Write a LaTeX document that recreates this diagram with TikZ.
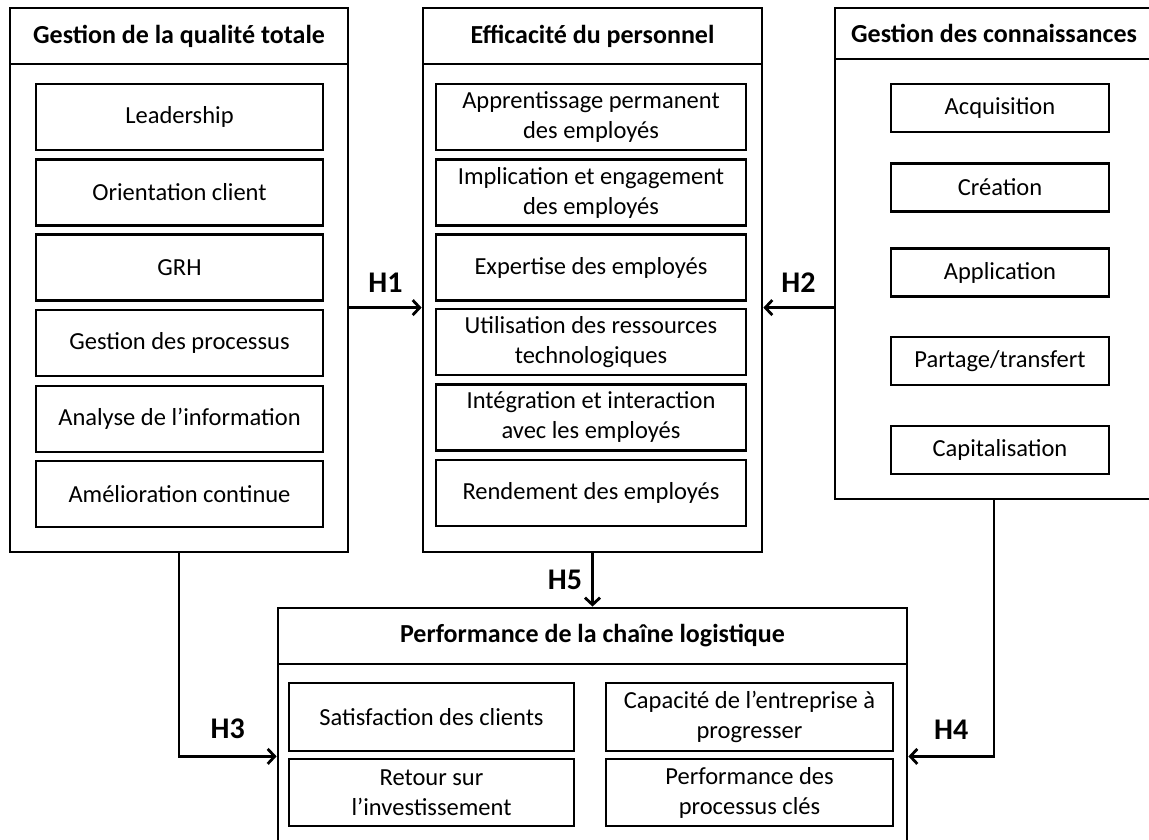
\documentclass[tikz,border=0pt]{standalone}
\usepackage{fontspec}
\setmainfont{Carlito}
\usetikzlibrary{arrows.meta,positioning}

\tikzset{
  outer/.style={draw, line width=2.8pt, inner sep=0pt},
  head/.style={draw, line width=2.8pt, inner sep=0pt, font=\bfseries\fontsize{26}{30}\selectfont},
  item/.style={draw, line width=2.8pt, inner sep=0pt, align=center, font=\fontsize{24.5}{30}\selectfont},
  hyp/.style={inner sep=0pt, font=\bfseries\fontsize{30}{32}\selectfont},
  arr/.style={-{Straight Barb[length=7pt,width=15pt]}, line width=2.8pt}
}

\begin{document}
\begin{tikzpicture}[x=1pt,y=-1pt]

\useasboundingbox (0,0) rectangle (1149,840);
\clip (0,0) rectangle (1149,840);

%%%%%
%% Gestion de la qualite totale
%%%%%
\node[outer, minimum width=338pt, minimum height=544pt] (gqt) at (179,280) {};
\node[head, minimum width=338pt, minimum height=56pt, anchor=north] (gqth) at (gqt.north) {Gestion de la qualité totale};

\node[item, minimum width=287pt, minimum height=66pt] (lead) at (179.5,117) {Leadership};
\node[item, minimum width=287pt, minimum height=66pt] (orient) at (179.5,192.5) {Orientation client};
\node[item, minimum width=287pt, minimum height=66pt] (grh) at (179.5,267.5) {GRH};
\node[item, minimum width=287pt, minimum height=66pt] (proc) at (179.5,343) {Gestion des processus};
\node[item, minimum width=287pt, minimum height=66pt] (info) at (179.5,419) {Analyse de l’information};
\node[item, minimum width=287pt, minimum height=66pt] (amel) at (179.5,494) {Amélioration continue};

%%%%%
%% Efficacite du personnel
%%%%%
\node[outer, minimum width=339pt, minimum height=544pt] (eff) at (592.5,280) {};
\node[head, minimum width=339pt, minimum height=56pt, anchor=north] (effh) at (eff.north) {Efficacité du personnel};

\node[item, minimum width=310pt, minimum height=66pt] (appr) at (591,117) {Apprentissage permanent\\des employés};
\node[item, minimum width=310pt, minimum height=66pt] (impl) at (591,192.5) {Implication et engagement\\des employés};
\node[item, minimum width=310pt, minimum height=66pt] (expert) at (591,267.5) {Expertise des employés};
\node[item, minimum width=310pt, minimum height=66pt] (util) at (591,342) {Utilisation des ressources\\technologiques};
\node[item, minimum width=310pt, minimum height=66pt] (integ) at (591,417.5) {Intégration et interaction\\avec les employés};
\node[item, minimum width=310pt, minimum height=66pt] (rend) at (591,493) {Rendement des employés};

%%%%%
%% Gestion des connaissances
%%%%%
\node[outer, minimum width=318pt, minimum height=491pt] (gc) at (994,253.5) {};
\node[head, minimum width=318pt, minimum height=51pt, anchor=north] (gch) at (gc.north) {Gestion des connaissances};

\node[item, minimum width=218pt, minimum height=48pt] (acq) at (1000,108) {Acquisition};
\node[item, minimum width=218pt, minimum height=48pt] (crea) at (1000,187.5) {Création};
\node[item, minimum width=218pt, minimum height=48pt] (appl) at (1000,272.5) {Application};
\node[item, minimum width=218pt, minimum height=48pt] (part) at (1000,361) {Partage/transfert};
\node[item, minimum width=218pt, minimum height=48pt] (capi) at (1000,450) {Capitalisation};

%%%%%
%% Performance de la chaine logistique
%%%%%
\node[outer, minimum width=629pt, minimum height=252pt] (perf) at (592.5,734) {};
\node[head, minimum width=629pt, minimum height=56pt, anchor=north] (perfh) at (perf.north) {Performance de la chaîne logistique};

\node[item, minimum width=285pt, minimum height=68pt] (sat) at (431.5,717) {Satisfaction des clients};
\node[item, minimum width=287pt, minimum height=68pt] (cap) at (749.5,717) {Capacité de l’entreprise à\\progresser};
\node[item, minimum width=285pt, minimum height=67pt] (ret) at (431.5,792.5) {Retour sur\\l’investissement};
\node[item, minimum width=287pt, minimum height=67pt] (pcle) at (749.5,792.5) {Performance des\\processus clés};

%%%%%
%% Hypotheses
%%%%%
\draw[arr] (util.north -| gqt.east) -- (util.north -| eff.west) node[hyp, midway, above=14pt] {H1};
\draw[arr] (util.north -| gc.west) -- (util.north -| eff.east) node[hyp, midway, above=14pt] {H2};
\draw[arr] (gqt.south) |- ([yshift=-4pt]sat.south -| perf.west) node[hyp, pos=0.75, above=16pt] {H3};
\draw[arr] (gc.south) |- ([yshift=-4pt]cap.south -| perf.east) node[hyp, pos=0.75, above=16pt] {H4};
\draw[arr] (eff.south) -- (perf.north) node[hyp, midway, left=9pt] {H5};

\end{tikzpicture}
\end{document}
